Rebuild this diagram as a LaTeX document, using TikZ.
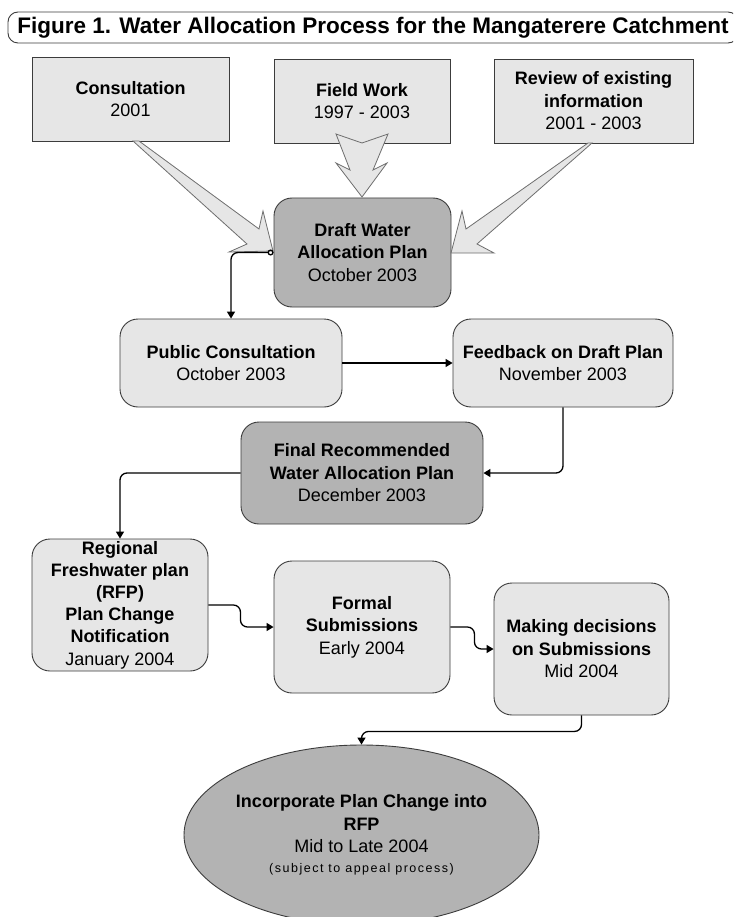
\documentclass[tikz,border=0pt]{standalone}
\usepackage{fontspec}
\setmainfont{Liberation Sans}
\newfontfamily\spacedfont[LetterSpace=12]{Liberation Sans}
\usetikzlibrary{arrows.meta,shapes.geometric}
\definecolor{lightfill}{HTML}{E6E6E6}
\definecolor{darkfill}{HTML}{B3B3B3}
\definecolor{edgecol}{HTML}{3C3C3C}
\definecolor{arrowedge}{HTML}{6E6E6E}
\begin{document}
\begin{tikzpicture}[x=1pt,y=-1pt,
  txt/.style={font=\fontsize{18}{22.5}\selectfont, align=center, inner sep=0pt},
  sqbox/.style={txt, draw=edgecol, fill=lightfill, line width=0.9pt},
  rbox/.style={txt, draw=edgecol, fill=lightfill, line width=0.9pt, rounded corners=18pt},
  dbox/.style={rbox, fill=darkfill},
  conn/.style={draw=black, line width=1.3pt, rounded corners=7pt, -{Triangle[length=7pt,width=8pt]}},
  blockarrow/.style={fill=lightfill, draw=arrowedge, line width=0.8pt, line join=miter}
]
\useasboundingbox (0,0) rectangle (733,917);
\clip (0,0) rectangle (733,917);
\fill[white] (0,0) rectangle (733,917);

% title
\node[draw=edgecol, fill=white, line width=0.9pt, rounded corners=10pt,
      minimum width=730pt, minimum height=31pt, inner sep=0pt,
      font=\fontsize{22.5}{26}\selectfont\bfseries] (title) at (373,27.5)
  {Figure 1. Water Allocation Process for the Mangaterere Catchment};

% top row
\node[sqbox, minimum width=197pt, minimum height=84pt] (cons) at (130.5,99)
  {\textbf{Consultation}\\2001};
\node[sqbox, minimum width=176pt, minimum height=84pt] (field) at (362,101)
  {\textbf{Field Work}\\1997 - 2003};
\node[sqbox, minimum width=199pt, minimum height=84pt] (review) at (593.5,101)
  {\textbf{Review of existing}\\\textbf{information}\\2001 - 2003};

% draft
\node[dbox, minimum width=177pt, minimum height=109pt] (draft) at (362.5,252.5)
  {\textbf{Draft Water}\\\textbf{Allocation Plan}\\October 2003};

% block arrows
\draw[blockarrow] (133,141) -- (247,244) -- (229,252) -- (273,251) -- (263,211) -- (259,229) -- (139,141) -- cycle;
\draw[blockarrow] (336,134) -- (350,170) -- (336,163) -- (362,197) -- (387,163) -- (373,170) -- (388,134) -- (362,143) -- cycle;
\draw[blockarrow] (588,143) -- (466,229) -- (462,211) -- (451,253) -- (494,253) -- (477,244) -- (592,143) -- cycle;

% second row
\node[rbox, minimum width=222pt, minimum height=88pt] (pc) at (231,363)
  {\textbf{Public Consultation}\\October 2003};
\node[rbox, minimum width=220pt, minimum height=88pt] (fb) at (563,363)
  {\textbf{Feedback on Draft Plan}\\November 2003};

% final
\node[dbox, minimum width=242pt, minimum height=102pt] (final) at (362,473)
  {\textbf{Final Recommended}\\\textbf{Water Allocation Plan}\\December 2003};

% third row
\node[rbox, minimum width=176pt, minimum height=132pt, font=\fontsize{18}{22.2}\selectfont] (reg) at (120,605)
  {\textbf{Regional}\\\textbf{Freshwater plan}\\\textbf{(RFP)}\\\textbf{Plan Change}\\\textbf{Notification}\\January 2004};
\node[rbox, minimum width=176pt, minimum height=132pt] (formal) at (362,627)
  {\textbf{Formal}\\\textbf{Submissions}\\Early 2004};
\node[rbox, minimum width=175pt, minimum height=132pt] (making) at (581.5,649)
  {\textbf{Making decisions}\\\textbf{on Submissions}\\Mid 2004};

% ellipse
\node[ellipse, draw=edgecol, fill=darkfill, line width=0.9pt, minimum width=353pt, minimum height=180pt,
      txt] (incorp) at (361.5,835)
  {\textbf{Incorporate Plan Change into}\\\textbf{RFP}\\Mid to Late 2004\\[-3pt]
   {\spacedfont\fontsize{12.5}{15}\selectfont (subject to appeal process)}};

% connectors
\draw[conn, {Circle[open,length=6pt,width=6pt]}-{Triangle[length=7pt,width=8pt]}] (draft.west) -| (pc.north);
\draw[conn] (pc.east) -- (fb.west);
\draw[conn] (fb.south) |- (final.east);
\draw[conn] (final.west) -| (reg.north);
\draw[conn] (reg.east) -- ++(32,0) |- (formal.west);
\draw[conn] (formal.east) -- ++(24,0) |- (making.west);
\draw[conn] (making.south) -- ++(0,16) -| (incorp.north);
\end{tikzpicture}
\end{document}
